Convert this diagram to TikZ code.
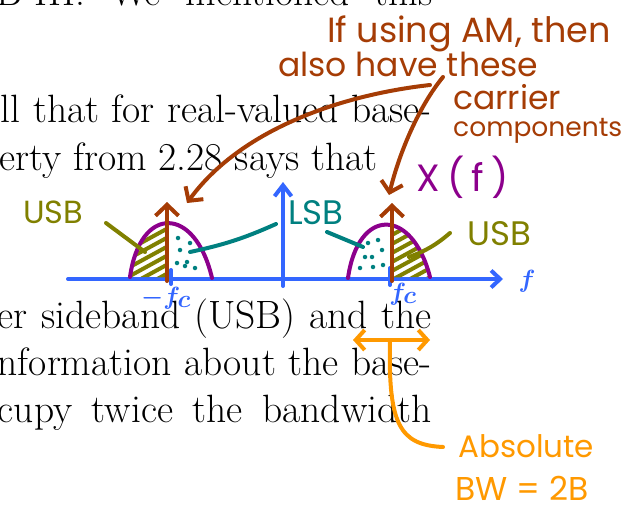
\documentclass[tikz,border=0pt]{standalone}
\usepackage{fontspec}
\newfontfamily\handfont{Poppins}
\usetikzlibrary{arrows.meta, positioning}
\definecolor{axisblue}{RGB}{51,102,255}
\definecolor{rust}{RGB}{165,60,5}
\definecolor{bumppurple}{RGB}{140,0,140}
\definecolor{lsbteal}{RGB}{0,128,128}
\definecolor{usbolive}{RGB}{128,128,0}
\definecolor{bworange}{RGB}{255,153,0}
\newcommand{\bodyline}[2]{\makebox[#1pt][s]{#2}}
\newcommand{\handsize}[1]{\fontsize{#1}{#1}\selectfont}
\tikzset{
  pen/.style={line width=4pt, line cap=round, line join=round},
  textline/.style={font=\fontsize{39.5}{47}\selectfont, inner sep=0pt, anchor=base east},
  note/.style={font=\handfont, inner sep=0pt, anchor=base west},
  axislabel/.style={axisblue, font=\boldmath\fontsize{40}{44}\selectfont, inner sep=0pt},
  barb/.style={-{Straight Barb[length=10pt,width=22pt]}},
  dot/.style={fill=lsbteal, circle, inner sep=0pt, minimum size=4.5pt},
}

\begin{document}
\begin{tikzpicture}[x=1pt, y=-1pt]
  \useasboundingbox (0,0) rectangle (621,508);
  \clip (0,0) rectangle (621,508);

  % page text behind the sketch
  \node[textline] (line0) at (433,6) {\bodyline{436}{B-III. We mentioned this}};
  \node[textline] (line1) at (432,123) {\bodyline{431}{ll that for real-valued base-}};
  \node[textline] (line2) at (378,170) {erty from 2.28 says that};
  \node[textline] (line3) at (432,328) {\bodyline{434}{er sideband (USB) and the}};
  \node[textline] (line4) at (432,375) {\bodyline{434}{nformation about the base-}};
  \node[textline] (line5) at (432,422) {\bodyline{434}{cupy twice the bandwidth}};

  % spectrum
  \draw[pen, axisblue, -{Straight Barb[length=9pt,width=17pt]}] (68,279) coordinate (fmin) -- (503,279) coordinate (fmax);
  \draw[pen, axisblue, -{Straight Barb[length=11pt,width=17pt]}] (283,286) coordinate (origin) -- (283,182) coordinate (ytop);
  \draw[pen, axisblue] (171,270) -- (171,284);
  \draw[pen, axisblue] (390,268) -- (390,285);
  \node[axislabel] (fneg) at (166,298) {$-f_c$};
  \node[axislabel] (fpos) at (403,294) {$f_c$};
  \node[axislabel, font=\boldmath\fontsize{46}{48}\selectfont] (flabel) at (527,281) {$f$};

  \begin{scope}
    \clip (130,277) .. controls (140,205) and (195,205) .. (212,278) -- cycle;
    \clip (120,200) rectangle (167,280);
    \foreach \y in {232,241,...,296}
      \draw[pen, usbolive] (128,\y) -- ++(44,-24);
  \end{scope}
  \begin{scope}
    \clip (348,278) .. controls (358,207) and (412,207) .. (430,277) -- cycle;
    \clip (392,200) rectangle (440,280);
    \foreach \y in {236,245,...,300}
      \draw[pen, usbolive] (390,\y) -- ++(44,-24);
  \end{scope}
  \foreach \p in {(178,238),(190,243),(180,250),(177,263),(187,262),(195,268),(185,266)}
    \node[dot] at \p {};
  \foreach \p in {(368,243),(378,240),(382,250),(365,257),(372,257),(360,268),(373,267),(383,265)}
    \node[dot] at \p {};

  \draw[pen, bumppurple] (130,277) .. controls (140,205) and (195,205) .. (212,278);
  \draw[pen, bumppurple] (348,278) .. controls (358,207) and (412,207) .. (430,277);
  \draw[pen, rust, -{Straight Barb[length=11pt,width=23pt]}] (167,281) coordinate (cneg) -- (167,202) coordinate (cnegtop);
  \draw[pen, rust, -{Straight Barb[length=11pt,width=23pt]}] (392,281) coordinate (cpos) -- (392,203) coordinate (cpostop);
  \node[bumppurple, note, font=\handfont\handsize{38}] (xf) at (416,191) {X\hspace{8pt}(\hspace{6pt}f\hspace{8pt})};

  % sideband labels
  \node[usbolive, note, font=\handfont\handsize{32}] (usbleft) at (23,223) {USB};
  \node[usbolive, note, font=\handfont\handsize{34}] (usbright) at (467,245) {USB};
  \node[lsbteal, note, font=\handfont\handsize{34}] (lsb) at (288,224) {LSB};
  \coordinate (usblefttail) at (106,223);
  \coordinate (usbrighttail) at (450,233);
  \coordinate (lsblefttail) at (276,224);
  \coordinate (lsbrighttail) at (327,232);
  \draw[pen, usbolive] (usblefttail) -- (145,252);
  \draw[pen, usbolive] (usbrighttail) to[bend left=10] (409,257);
  \draw[pen, lsbteal] (lsblefttail) to[bend left=6] (190,252);
  \draw[pen, lsbteal] (lsbrighttail) -- (363,247);

  % AM note
  \node[rust, note, font=\handfont\handsize{35}] (amnote) at (327,43) {If using AM, then};
  \node[rust, note, font=\handfont\handsize{33}] (alsonote) at (278,77) {also have these};
  \node[rust, note, font=\handfont\handsize{33}] (carrnote) at (453,110) {carrier};
  \node[rust, note, font=\handfont\handsize{26.5}] (compnote) at (453,137) {components};
  \coordinate (amtail1) at (430,85);
  \coordinate (amtail2) at (443,77);
  \coordinate (amtip1) at (187,203);
  \coordinate (amtip2) at (389,195);
  \draw[pen, rust, barb] (amtail1) .. controls (340,95) and (240,130) .. (amtip1);
  \draw[pen, rust, barb] (amtail2) .. controls (420,105) and (400,150) .. (amtip2);

  % bandwidth note
  \coordinate (bwleft) at (353,340);
  \coordinate (bwright) at (430,340);
  \coordinate (bwmid) at (390,341);
  \coordinate (bwend) at (443,447);
  \draw[pen, bworange, {Straight Barb[length=9pt,width=20pt]}-{Straight Barb[length=9pt,width=20pt]}] (bwleft) -- (bwright);
  \node[bworange, note, font=\handfont\handsize{31}] (absnote) at (458,457) {Absolute};
  \node[bworange, note, font=\handfont\handsize{33}] (bwnote) at (455,500) {BW = 2B};
  \draw[pen, bworange] (bwmid) .. controls (388,425) and (400,445) .. (bwend);
\end{tikzpicture}
\end{document}
